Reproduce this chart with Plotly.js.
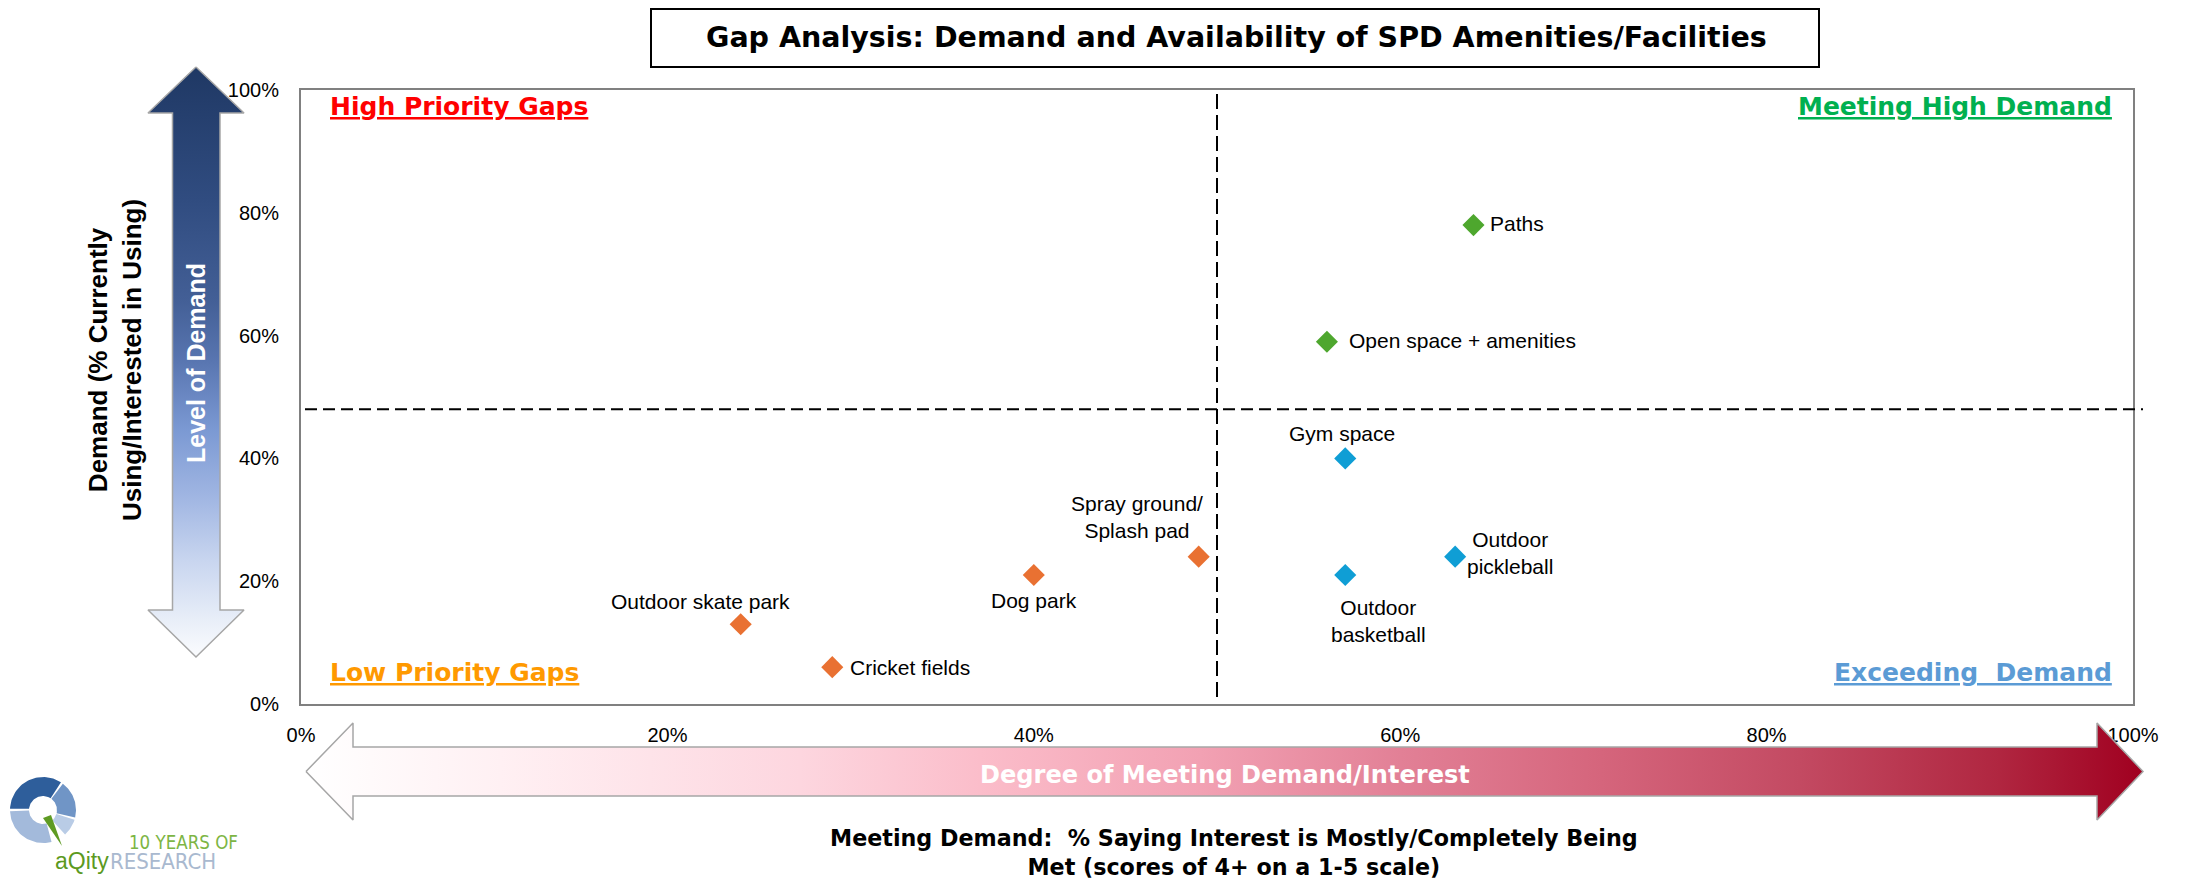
<!DOCTYPE html>
<html><head><meta charset="utf-8">
<script src="https://cdn.plot.ly/plotly-3.0.1.min.js"></script>
<style>html,body{margin:0;padding:0;background:#fff;}#chart{width:2187px;height:881px;}</style>
</head><body><div id="chart"></div>
<script>
// ---------- data ----------
const amenities = ['Paths','Open space + amenities','Gym space','Outdoor basketball','Outdoor pickleball','Spray ground/ Splash pad','Dog park','Outdoor skate park','Cricket fields'];
const labelText = ['Paths','Open space + amenities','Gym space','Outdoor<br>basketball','Outdoor<br>pickleball','Spray ground/<br>Splash pad','Dog park','Outdoor skate park','Cricket fields'];
const meetingDemand = [0.64,0.56,0.57,0.57,0.63,0.49,0.40,0.24,0.29];
const demandLevel   = [0.78,0.59,0.40,0.21,0.24,0.24,0.21,0.13,0.06];
const quadrantGroup = ['high','high','exceed','exceed','exceed','low','low','low','low'];
const xTickVals = [0,0.2,0.4,0.6,0.8,1];
const yTickVals = [0,0.2,0.4,0.6,0.8,1];
const xDivider = 0.5;
const yDivider = 0.48;
const quadrantNames = ['High Priority Gaps','Meeting High Demand','Low Priority Gaps','Exceeding\u00a0 Demand'];
const chartTitle = 'Gap Analysis: Demand and Availability of SPD Amenities/Facilities';
const xTitleLines = ['Meeting Demand:\u00a0 % Saying Interest is Mostly/Completely Being','Met (scores of 4+ on a 1-5 scale)'];
const yTitleLines = ['Demand (% Currently','Using/Interested in Using)'];

// ---------- styles / geometry ----------
const W = 2187, H = 881;
const plotL = 301, plotR = 2133, plotT = 90, plotB = 704;
const px = x => x / W;
const py = y => 1 - y / H;
const groupColor = {high:'#4EA72E', exceed:'#0F9ED5', low:'#E97132'};
const labelStyle = [
  {xanchor:'left',   dx:15,  dy:2},
  {xanchor:'left',   dx:20,  dy:1},
  {xanchor:'center', dx:-3,  dy:25},
  {xanchor:'center', dx:33,  dy:-46},
  {xanchor:'left',   dx:10,  dy:4},
  {xanchor:'center', dx:-62, dy:40},
  {xanchor:'center', dx:0,   dy:-25},
  {xanchor:'center', dx:-40, dy:23},
  {xanchor:'left',   dx:16,  dy:0}
];
const ARIAL = '"Liberation Sans", Arial, sans-serif';
const TAHOMA = '"DejaVu Sans", Verdana, sans-serif';
const NARROW = '"Liberation Sans Narrow", "Arial Narrow", "DejaVu Sans Condensed", sans-serif';

const ctx = document.createElement('canvas').getContext('2d');
function fitSize(text, family, weight, target, base){
  ctx.font = weight + ' ' + base + 'px ' + family;
  const w = ctx.measureText(text).width;
  return w > 0 ? base * target / w : base;
}

const traces = [];

// scatter points per group
['high','exceed','low'].forEach(g => {
  const idx = quadrantGroup.map((q,i)=>q===g?i:-1).filter(i=>i>=0);
  traces.push({
    type:'scatter', mode:'markers', xaxis:'x', yaxis:'y',
    x: idx.map(i=>meetingDemand[i]), y: idx.map(i=>demandLevel[i]),
    text: idx.map(i=>amenities[i]),
    marker:{symbol:'diamond', size:17, color:groupColor[g], line:{width:0}},
    hoverinfo:'text', showlegend:false
  });
});

// overlay (pixel) axes decorations: gradient arrows + logo
const Y = y => H - y; // pixel-down -> overlay y-up
function poly(pts){ const xs=pts.map(p=>p[0]); const ys=pts.map(p=>Y(p[1])); xs.push(xs[0]); ys.push(ys[0]); return {xs, ys}; }

const vArrow = poly([[196,67],[244,113],[220,113],[220,610],[244,610],[196,657],[148,610],[172.5,610],[172.5,113],[148,113]]);
traces.push({type:'scatter', mode:'lines', xaxis:'x2', yaxis:'y2', x:vArrow.xs, y:vArrow.ys,
  fill:'toself', line:{color:'#A6A6A6', width:1.5}, hoverinfo:'skip', showlegend:false,
  fillgradient:{type:'vertical', colorscale:[[0,'#FBFCFE'],[0.063,'#E8EEF8'],[0.164,'#C8D5EF'],[0.266,'#A2B7E3'],[0.385,'#7B99D3'],[0.503,'#5875B0'],[0.605,'#435F96'],[0.775,'#304C80'],[1,'#1F3864']]}
});
const hArrow = poly([[306,771.5],[353,723],[353,747],[2097,747],[2097,723],[2143,771.5],[2097,820],[2097,796],[353,796],[353,820]]);
traces.push({type:'scatter', mode:'lines', xaxis:'x2', yaxis:'y2', x:hArrow.xs, y:hArrow.ys,
  fill:'toself', line:{color:'#A6A6A6', width:1.5}, hoverinfo:'skip', showlegend:false,
  fillgradient:{type:'horizontal', colorscale:[[0,'#FFFFFF'],[0.106,'#FFF0F3'],[0.269,'#FDD6DF'],[0.367,'#FBBDCA'],[0.487,'#F2A1B3'],[0.596,'#E28096'],[0.705,'#D5657C'],[0.813,'#C34A62'],[0.922,'#B02640'],[1,'#A00020']]}
});

// logo ring
function ring(cx, cy, r0, r1, a0, a1, color){
  const xs=[], ys=[], n=40;
  for(let i=0;i<=n;i++){const a=(a0+(a1-a0)*i/n)*Math.PI/180; xs.push(cx+r1*Math.cos(a)); ys.push(Y(cy - r1*Math.sin(a)));}
  for(let i=n;i>=0;i--){const a=(a0+(a1-a0)*i/n)*Math.PI/180; xs.push(cx+r0*Math.cos(a)); ys.push(Y(cy - r0*Math.sin(a)));}
  xs.push(xs[0]); ys.push(ys[0]);
  return {type:'scatter', mode:'lines', xaxis:'x2', yaxis:'y2', x:xs, y:ys, fill:'toself', fillcolor:color, line:{width:0, color:color}, hoverinfo:'skip', showlegend:false};
}
const lcx = 43, lcy = 810;
traces.push(ring(lcx,lcy,14,33, 57,178,'#2E5E9B'));
traces.push(ring(lcx,lcy,14,33,-13, 53,'#7095C6'));
traces.push(ring(lcx,lcy,14,33,-48,-17,'#B9CCE6'));
traces.push(ring(lcx,lcy,14,33,182,285,'#A3BADB'));
const tail = poly([[43,818],[51,815],[62,846]]);
traces.push({type:'scatter', mode:'lines', xaxis:'x2', yaxis:'y2', x:tail.xs, y:tail.ys, fill:'toself', fillcolor:'#5E9B23', line:{width:0,color:'#5E9B23'}, hoverinfo:'skip', showlegend:false});

// ---------- annotations ----------
const annotations = [];
amenities.forEach((n,i) => {
  const s = labelStyle[i];
  annotations.push({xref:'x', yref:'y', x:meetingDemand[i], y:demandLevel[i], text:labelText[i], showarrow:false,
    xanchor:s.xanchor, yanchor:'middle', xshift:s.dx, yshift:s.dy, align:'center',
    font:{family:ARIAL, size:21, color:'#000'}});
});
const qFont = c => ({family:TAHOMA, size:25, color:c, weight:700});
annotations.push({xref:'paper', yref:'paper', x:px(328), y:py(106), xanchor:'left', yanchor:'middle', showarrow:false, text:'<u>'+quadrantNames[0]+'</u>', font:qFont('#FF0000')});
annotations.push({xref:'paper', yref:'paper', x:px(2114), y:py(106), xanchor:'right', yanchor:'middle', showarrow:false, text:'<u>'+quadrantNames[1]+'</u>', font:qFont('#00B050')});
annotations.push({xref:'paper', yref:'paper', x:px(328), y:py(672), xanchor:'left', yanchor:'middle', showarrow:false, text:'<u>'+quadrantNames[2]+'</u>', font:qFont('#FF9900')});
annotations.push({xref:'paper', yref:'paper', x:px(2114), y:py(672), xanchor:'right', yanchor:'middle', showarrow:false, text:'<u>'+quadrantNames[3]+'</u>', font:qFont('#5B9BD5')});

// title
const titleSize = Math.min(30, fitSize(chartTitle, TAHOMA, 'bold', 1061, 24));
annotations.push({xref:'paper', yref:'paper', x:px(1236), y:py(38), xanchor:'center', yanchor:'middle', showarrow:false,
  text:chartTitle, font:{family:TAHOMA, size:titleSize, color:'#000', weight:700}});
// y-axis title
annotations.push({xref:'paper', yref:'paper', x:px(115), y:py(360), xanchor:'center', yanchor:'middle', showarrow:false, textangle:-90,
  text:yTitleLines.join('<br>'), font:{family:ARIAL, size:26, color:'#000', weight:700}});
// arrow texts
annotations.push({xref:'paper', yref:'paper', x:px(196), y:py(363), xanchor:'center', yanchor:'middle', showarrow:false, textangle:-90,
  text:'Level of Demand', font:{family:ARIAL, size:25, color:'#FFFFFF', weight:700}});
const degSize = Math.min(27, fitSize('Degree of Meeting Demand/Interest', TAHOMA, 'bold', 490, 24));
annotations.push({xref:'paper', yref:'paper', x:px(1225), y:py(775), xanchor:'center', yanchor:'middle', showarrow:false,
  text:'Degree of Meeting Demand/Interest', font:{family:TAHOMA, size:degSize, color:'#FFFFFF', weight:700}});
// x-axis title
const xtSize = Math.min(24, fitSize(xTitleLines[0], TAHOMA, 'bold', 808, 22));
annotations.push({xref:'paper', yref:'paper', x:px(1234), y:py(852), xanchor:'center', yanchor:'middle', showarrow:false,
  text:xTitleLines.join('<br>'), font:{family:TAHOMA, size:xtSize, color:'#000', weight:700}});
// logo text
const yrsSize = Math.min(22, fitSize('10 YEARS OF', NARROW, 'normal', 109, 20));
const resSize = Math.min(22, fitSize('RESEARCH', NARROW, 'normal', 127, 20));
annotations.push({xref:'paper', yref:'paper', x:px(127), y:py(842), xanchor:'left', yanchor:'middle', showarrow:false,
  text:'10 YEARS OF', font:{family:NARROW, size:yrsSize, color:'#7DB544'}});
annotations.push({xref:'paper', yref:'paper', x:px(53), y:py(861), xanchor:'left', yanchor:'middle', showarrow:false,
  text:'aQity', font:{family:ARIAL, size:23, color:'#5C9A1F'}});
annotations.push({xref:'paper', yref:'paper', x:px(108), y:py(861), xanchor:'left', yanchor:'middle', showarrow:false,
  text:'RESEARCH', font:{family:NARROW, size:resSize, color:'#A9B9CF'}});

// ---------- shapes ----------
const shapes = [
  {type:'rect', xref:'paper', yref:'paper', x0:px(651), x1:px(1819), y0:py(67), y1:py(9), line:{color:'#000', width:2}, fillcolor:'rgba(0,0,0,0)'},
  {type:'line', xref:'x', yref:'paper', x0:xDivider, x1:xDivider, y0:py(697), y1:py(88), line:{color:'#000', width:2, dash:'15px,6px'}},
  {type:'line', xref:'paper', yref:'y', x0:px(305), x1:px(2143), y0:yDivider, y1:yDivider, line:{color:'#000', width:2, dash:'12px,6px'}}
];

const axisCommon = {range:[0,1], tickformat:'.0%', showgrid:false, zeroline:false, showline:true, linecolor:'#808080', linewidth:2, mirror:true,
  ticks:'', tickfont:{family:ARIAL, size:20, color:'#000'}, fixedrange:true};

const layout = {
  width:W, height:H, margin:{l:0,r:0,t:0,b:0}, paper_bgcolor:'#fff', plot_bgcolor:'rgba(0,0,0,0)', showlegend:false, hovermode:'closest',
  xaxis: Object.assign({}, axisCommon, {domain:[px(plotL), px(plotR)], anchor:'y', tickvals:xTickVals, ticklabelstandoff:12}),
  yaxis: Object.assign({}, axisCommon, {domain:[py(plotB), py(plotT)], anchor:'x', tickvals:yTickVals, ticklabelstandoff:16}),
  xaxis2: {domain:[0,1], range:[0,W], visible:false, fixedrange:true, anchor:'y2'},
  yaxis2: {domain:[0,1], range:[0,H], visible:false, fixedrange:true, anchor:'x2'},
  annotations, shapes
};

Plotly.newPlot('chart', traces, layout, {displayModeBar:false});
</script></body></html>
